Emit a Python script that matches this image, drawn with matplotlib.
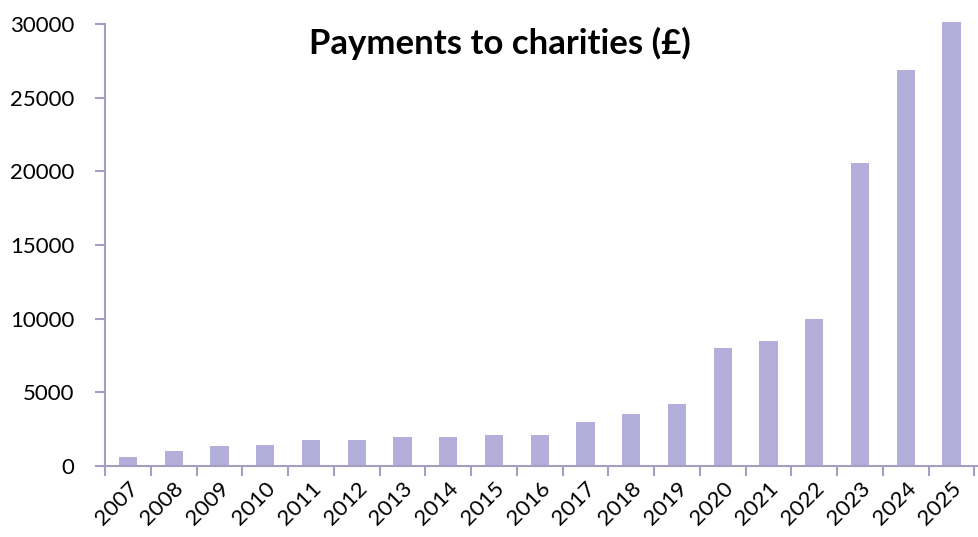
import numpy as np
import matplotlib.pyplot as plt

# Data
years = ['2007', '2008', '2009', '2010', '2011', '2012', '2013', '2014', '2015', '2016',
         '2017', '2018', '2019', '2020', '2021', '2022', '2023', '2024', '2025']
payments = [620, 1000, 1350, 1400, 1750, 1750, 2000, 2000, 2100, 2100,
            3000, 3500, 4200, 8000, 8500, 10000, 20550, 26850, 30150]

bar_color = '#b4aedb'
axis_color = '#a39fc0'

plt.rcParams['font.family'] = ['Lato', 'DejaVu Sans']

fig = plt.figure(figsize=(9.79, 5.37), dpi=100)
ax = fig.add_axes([0.1073, 0.1322, 0.8927, 0.8231])

x = np.arange(len(years))
ax.bar(x, payments, width=0.4, color=bar_color, clip_on=False, zorder=2)

ax.set_ylim(0, 30000)
ax.set_yticks(np.arange(0, 30001, 5000))
ax.set_xlim(-0.5, len(years) - 0.5 + 0.1)

# Ticks between categories, labels under bars
ax.set_xticks(np.arange(-0.5, len(years), 1.0))
ax.set_xticklabels([])
ax.set_xticks(x, minor=True)
ax.set_xticklabels(years, minor=True, rotation=45, ha='right', rotation_mode='anchor',
                   fontsize=16)
ax.tick_params(axis='x', which='minor', length=0, pad=9)
ax.tick_params(axis='x', which='major', length=7, width=1.5, color=axis_color, direction='out')
ax.tick_params(axis='y', length=7, width=1.5, color=axis_color, labelsize=16, pad=15)

for side in ['top', 'right']:
    ax.spines[side].set_visible(False)
for side in ['left', 'bottom']:
    ax.spines[side].set_color(axis_color)
    ax.spines[side].set_linewidth(1.5)

fig.text(0.511, 0.92, 'Payments to charities (£)', ha='center', va='center',
         fontsize=25, fontweight='bold')

fig.savefig('out.png', dpi=100)
